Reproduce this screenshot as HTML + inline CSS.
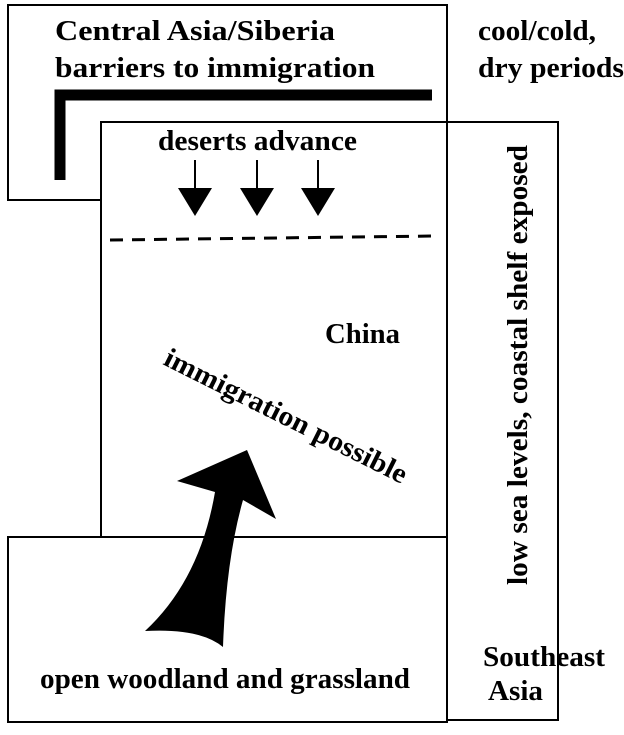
<!DOCTYPE html>
<html><head><style>
body{margin:0;width:624px;height:730px;background:#fff;overflow:hidden}
svg text{font-family:"Liberation Serif",serif;font-weight:bold;fill:#000}
</style></head><body>
<svg width="624" height="730" viewBox="0 0 624 730">
<g fill="none" stroke="#000" stroke-width="2">
<rect x="8" y="5" width="439" height="195"/>
<rect x="447" y="122" width="111" height="598" fill="#fff"/>
<rect x="101" y="122" width="346" height="415" fill="#fff"/>
<rect x="8" y="537" width="439" height="185" fill="#fff"/>
</g>
<path d="M432 95 H60 V180" fill="none" stroke="#000" stroke-width="11"/>
<line x1="110" y1="240" x2="435" y2="236" stroke="#000" stroke-width="3" stroke-dasharray="13,9"/>
<g stroke="#000" stroke-width="2"><line x1="195" y1="160" x2="195" y2="192"/><line x1="257" y1="160" x2="257" y2="192"/><line x1="318" y1="160" x2="318" y2="192"/></g>
<g fill="#000"><path d="M178 188 L212 188 L195 216Z"/><path d="M240 188 L274 188 L257 216Z"/><path d="M301 188 L335 188 L318 216Z"/></g>
<path d="M145 631 Q200 580 215 492 L177 481 L247 450 L276 519 L243 500 Q226 560 223 647 Q200 628 145 631Z" fill="#000"/>
<g font-size="28" lengthAdjust="spacingAndGlyphs">
<text x="55" y="40" textLength="280" lengthAdjust="spacingAndGlyphs">Central Asia/Siberia</text>
<text x="55" y="77" textLength="320" lengthAdjust="spacingAndGlyphs">barriers to immigration</text>
<text x="478" y="40" textLength="118" lengthAdjust="spacingAndGlyphs">cool/cold,</text>
<text x="478" y="77" textLength="146" lengthAdjust="spacingAndGlyphs">dry periods</text>
<text x="158" y="150" textLength="199" lengthAdjust="spacingAndGlyphs">deserts advance</text>
<text x="325" y="343" textLength="75" lengthAdjust="spacingAndGlyphs">China</text>
<text transform="translate(162,364) rotate(26.6)" textLength="268" lengthAdjust="spacingAndGlyphs">immigration possible</text>
<text transform="translate(527,585) rotate(-90)" textLength="440" lengthAdjust="spacingAndGlyphs">low sea levels, coastal shelf exposed</text>
<text x="483" y="666" textLength="122" lengthAdjust="spacingAndGlyphs">Southeast</text>
<text x="488" y="700" textLength="55" lengthAdjust="spacingAndGlyphs">Asia</text>
<text x="40" y="688" textLength="370" lengthAdjust="spacingAndGlyphs">open woodland and grassland</text>
</g>
</svg>
</body></html>
